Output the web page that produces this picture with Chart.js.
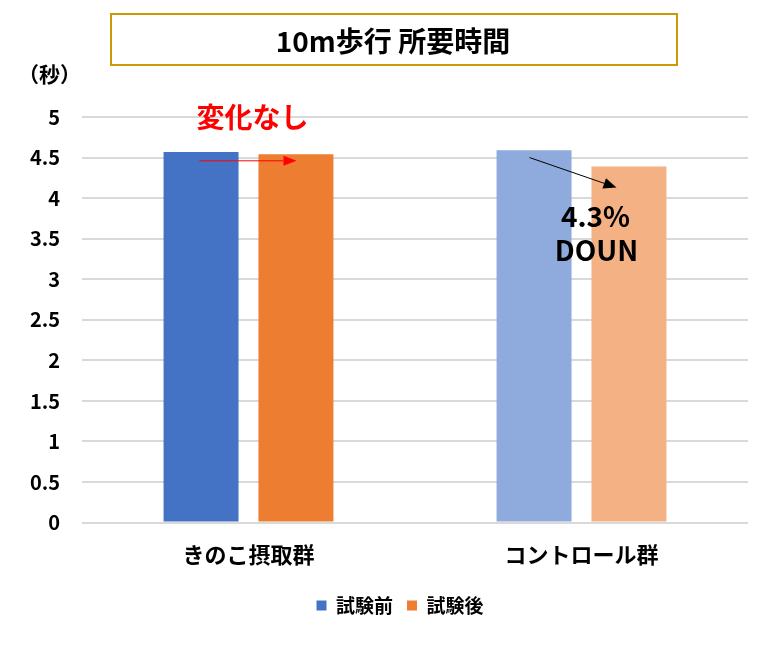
<!DOCTYPE html>
<html><head><meta charset="utf-8">
<script src="https://cdn.jsdelivr.net/npm/chart.js@4.4.1/dist/chart.umd.min.js"></script>
<style>html,body{margin:0;padding:0;background:#fff;}#wrap{width:772px;height:666px;position:relative;}</style>
</head><body><div id="wrap"><canvas id="c" width="772" height="666"></canvas></div>
<script>
const chartTitle = '10m歩行 所要時間';
const yUnit = '（秒）';
const categories = ['きのこ摂取群', 'コントロール群'];
const seriesNames = ['試験前', '試験後'];
const beforeValues = [4.57, 4.59];
const afterValues = [4.54, 4.39];
const yTickLabels = ['0','0.5','1','1.5','2','2.5','3','3.5','4','4.5','5'];
const beforeColors = ['#4472C4', '#8FAADC'];
const afterColors = ['#ED7D31', '#F4B183'];
const noteNoChange = '変化なし';
const noteDown = ['4.3%', 'DOUN'];

const FONT = '"Noto Sans CJK JP", "Noto Sans", sans-serif';

function arrow(ctx, x1, y1, x2, y2, color, len, wid) {
  const a = Math.atan2(y2 - y1, x2 - x1);
  const bx = x2 - len * Math.cos(a), by = y2 - len * Math.sin(a);
  ctx.save();
  ctx.strokeStyle = color; ctx.fillStyle = color; ctx.lineWidth = 1;
  ctx.beginPath(); ctx.moveTo(x1, y1); ctx.lineTo(bx, by); ctx.stroke();
  ctx.beginPath();
  ctx.moveTo(x2, y2);
  ctx.lineTo(bx + wid / 2 * Math.sin(a), by - wid / 2 * Math.cos(a));
  ctx.lineTo(bx - wid / 2 * Math.sin(a), by + wid / 2 * Math.cos(a));
  ctx.closePath(); ctx.fill();
  ctx.restore();
}

const legendShift = {
  id: 'legendShift',
  afterLayout(chart) {
    const l = chart.legend;
    if (l) { l.left += 21; l.right += 21; l.top -= 5; l.bottom -= 5; }
  }
};

const decor = {
  id: 'decor',
  afterDraw(chart) {
    const ctx = chart.ctx;
    const x = chart.scales.x, y = chart.scales.y;
    ctx.save();
    // title box
    ctx.strokeStyle = '#C99A06'; ctx.lineWidth = 2;
    ctx.strokeRect(111, 14, 566, 51);
    ctx.fillStyle = '#000';
    ctx.font = 'bold 28px ' + FONT;
    ctx.textAlign = 'center'; ctx.textBaseline = 'middle';
    ctx.fillText(chartTitle, 393, 41);
    // unit
    ctx.font = 'bold 21px ' + FONT;
    ctx.textAlign = 'left';
    ctx.fillText(yUnit, 18, 74);
    // annotations
    const c0 = x.getPixelForValue(0), c1 = x.getPixelForValue(1);
    ctx.fillStyle = '#FF0000';
    ctx.font = 'bold 28px ' + FONT;
    ctx.textAlign = 'center';
    ctx.fillText(noteNoChange, c0 + 4, y.getPixelForValue(4.99));
    arrow(ctx, c0 - 49, y.getPixelForValue(4.46), c0 + 48, y.getPixelForValue(4.46), '#FF0000', 13, 10);
    arrow(ctx, c1 - 52, y.getPixelForValue(4.50), c1 + 35, y.getPixelForValue(4.13), '#000000', 13, 11);
    ctx.fillStyle = '#000';
    ctx.font = 'bold 28px ' + FONT;
    ctx.fillText(noteDown[0], c1 + 14, y.getPixelForValue(3.78));
    ctx.fillText(noteDown[1], c1 + 15, y.getPixelForValue(3.35));
    ctx.restore();
  }
};

new Chart(document.getElementById('c'), {
  type: 'bar',
  data: {
    labels: categories,
    datasets: [
      { label: seriesNames[0], data: beforeValues, backgroundColor: beforeColors },
      { label: seriesNames[1], data: afterValues, backgroundColor: afterColors }
    ]
  },
  options: {
    responsive: false,
    animation: false,
    devicePixelRatio: 1,
    categoryPercentage: 0.57,
    barPercentage: 0.79,
    layout: { padding: { top: 117, left: 10, right: 24, bottom: 36 } },
    plugins: {
      title: { display: false },
      tooltip: { enabled: false },
      legend: {
        position: 'bottom',
        labels: {
          boxWidth: 10, boxHeight: 10, padding: 14,
          color: '#000',
          font: { family: FONT, size: 19, weight: 'bold' },
          generateLabels: (chart) => seriesNames.map((n, i) => ({
            text: n, fillStyle: i === 0 ? beforeColors[0] : afterColors[0],
            strokeStyle: 'transparent', lineWidth: 0, hidden: false, datasetIndex: i
          }))
        }
      }
    },
    scales: {
      x: {
        grid: { display: false, drawTicks: false },
        border: { display: false },
        ticks: { color: '#000', padding: 19, font: { family: FONT, size: 22, weight: 'bold' } }
      },
      y: {
        min: 0, max: 5,
        afterFit: (s) => { s.width = 72; },
        grid: { color: '#D9D9D9', lineWidth: 2, drawTicks: false },
        border: { display: false },
        ticks: {
          stepSize: 0.5, padding: 22, color: '#000',
          font: { family: FONT, size: 20, weight: 'bold' },
          callback: (v, i) => yTickLabels[i]
        }
      }
    }
  },
  plugins: [legendShift, decor]
});
</script></body></html>
